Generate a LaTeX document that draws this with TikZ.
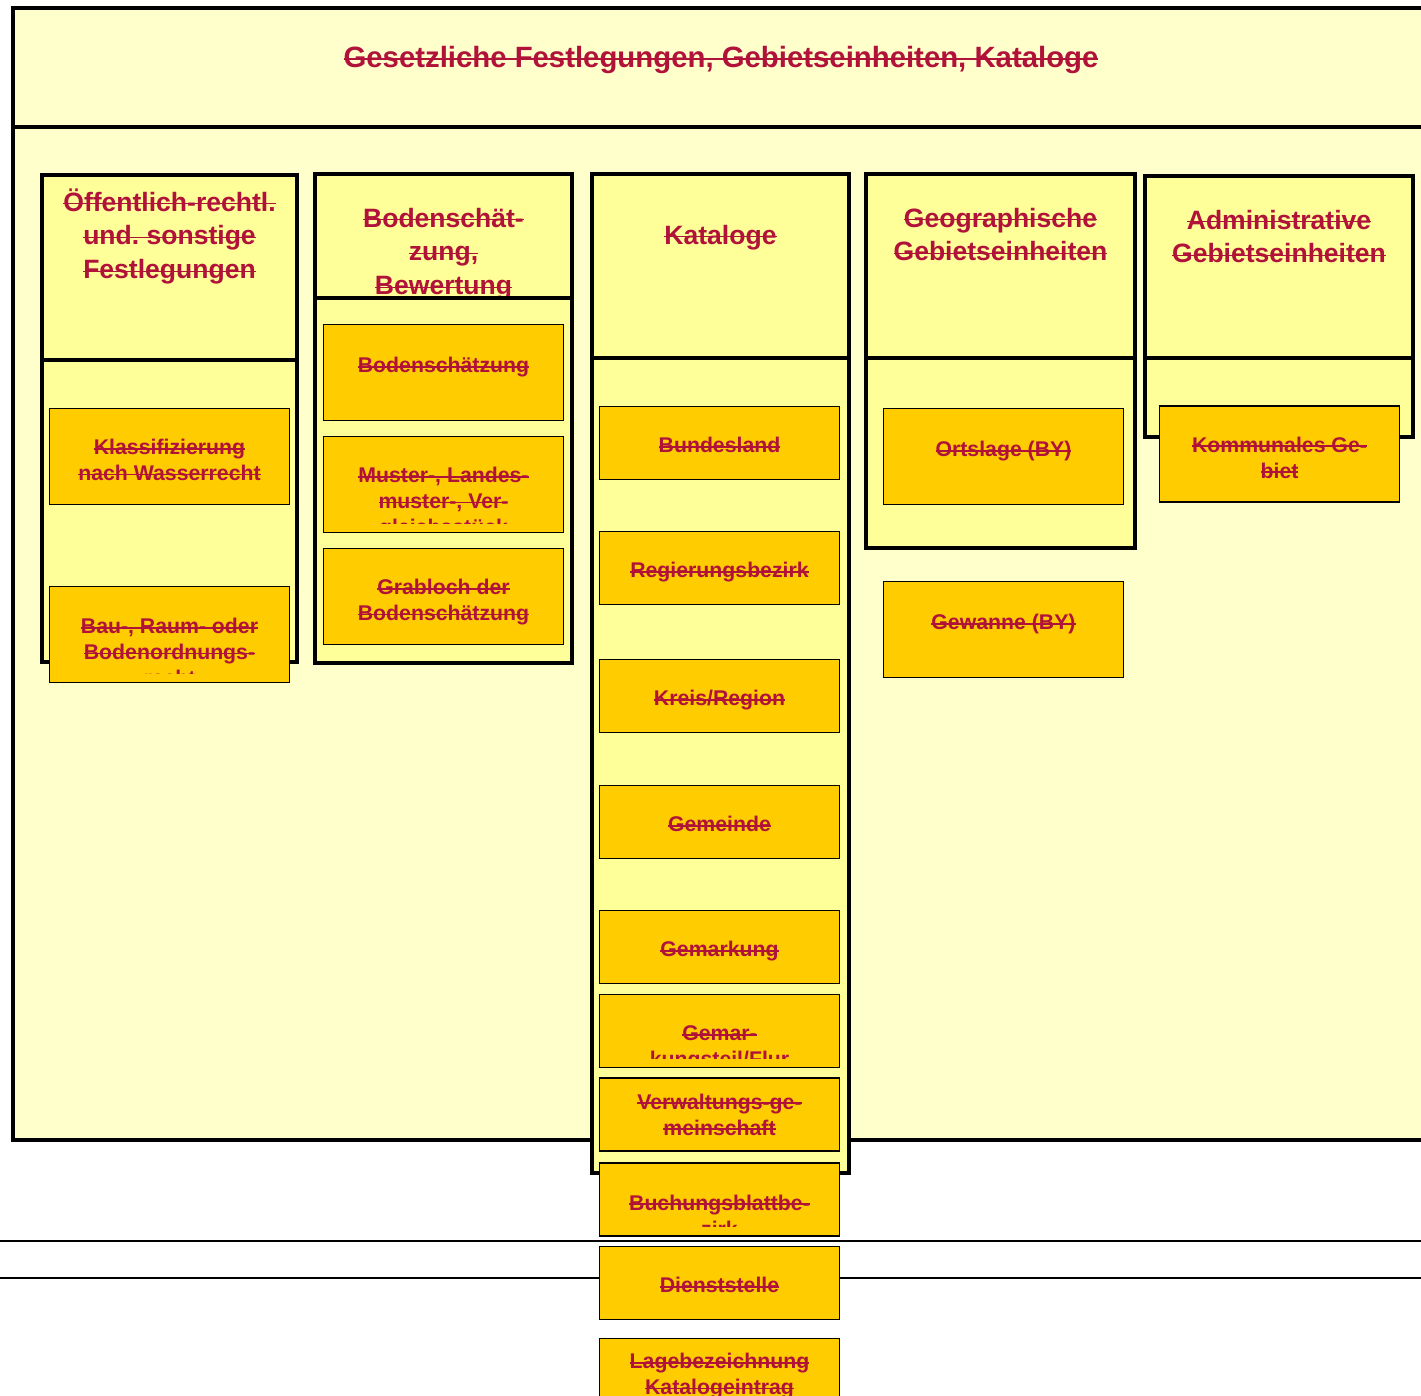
\documentclass[tikz,border=0pt]{standalone}
\usepackage{fontspec}
\setmainfont{Liberation Sans}
\usetikzlibrary{calc}
\definecolor{paleyellow}{HTML}{FFFFCC}
\definecolor{colyellow}{HTML}{FFFF99}
\definecolor{boxorange}{HTML}{FFCC00}
\definecolor{darkred}{RGB}{176,18,58}
\frenchspacing
\newsavebox{\strikebox}
\newcommand{\sline}[1]{\sbox{\strikebox}{#1}\strut\rlap{\rule[0.25em]{\wd\strikebox}{1pt}}\usebox{\strikebox}}

\begin{document}
\begin{tikzpicture}[x=0.02cm, y=-0.02cm,
    colframe/.style={draw=black, line width=2pt, fill=colyellow},
    colline/.style={draw=black, line width=1.8pt},
    entry/.style={draw=black, line width=1.1pt, fill=boxorange, inner sep=0pt,
                  minimum width=4.8cm, minimum height=1.92cm},
    shortentry/.style={entry, minimum height=1.46cm},
    titletext/.style={text=darkred, inner sep=0pt,
                      font=\fontsize{16.7}{20}\selectfont\bfseries},
    headtext/.style={text=darkred, align=center, inner sep=0pt, anchor=north,
                     font=\fontsize{15.1}{19.3}\selectfont\bfseries},
    boxtext/.style={text=darkred, align=center, inner sep=0pt, anchor=north,
                    font=\fontsize{12.1}{14.7}\selectfont\bfseries}]
            % page
            \useasboundingbox (0,0) rectangle (1421,1396);
            \clip (0,0) rectangle (1421,1396);
            \fill[white] (0,0) rectangle (1421,1396);

            % coordinates
            \coordinate (frame) at (13,8); % outer frame top-left
            \coordinate (colA) at (42,175); % column top-left corners
            \coordinate (colB) at (315,174);
            \coordinate (colC) at (592,174);
            \coordinate (colD) at (866,174);
            \coordinate (colE) at (1145,176);

            % thin lines below the frame
            \draw[line width=1pt] (0,1241) -- (1421,1241);
            \draw[line width=1pt] (0,1278) -- (1421,1278);

            % outer frame with title
            \draw[line width=2.8pt, fill=paleyellow] (frame) rectangle ++(1440,1132);
            \draw[line width=2.8pt] ($(frame) + (0,119)$) -- ++(1440,0);
            \node[titletext] (title) at (721,60) {\sline{Gesetzliche Festlegungen, Gebietseinheiten, Kataloge}};

            % columns
            \draw[colframe] (colA) rectangle ++(255,487);
            \draw[colline] ($(colA) + (0,185)$) -- ++(255,0);
            \node[headtext] (colA-t) at ($(colA) + (127.5,12)$)
                {\sline{Öffentlich-rechtl.}\\\sline{und. sonstige}\\\sline{Festlegungen}};

            \draw[colframe] (colB) rectangle ++(257,489);
            \node[headtext] (colB-t) at ($(colB) + (128.5,29)$)
                {\sline{Bodenschät-}\\\sline{zung,}\\\sline{Bewertung}};
            \draw[colline] ($(colB) + (0,124)$) -- ++(257,0);

            \draw[colframe] (colC) rectangle ++(257,999);
            \draw[colline] ($(colC) + (0,184)$) -- ++(257,0);
            \node[headtext] (colC-t) at ($(colC) + (128.5,46)$) {\sline{Kataloge}};

            \draw[colframe] (colD) rectangle ++(269,374);
            \draw[colline] ($(colD) + (0,184)$) -- ++(269,0);
            \node[headtext] (colD-t) at ($(colD) + (134.5,29)$)
                {\sline{Geographische}\\\sline{Gebietseinheiten}};

            \draw[colframe] (colE) rectangle ++(268,261);
            \draw[colline] ($(colE) + (0,182)$) -- ++(268,0);
            \node[headtext] (colE-t) at ($(colE) + (134,29)$)
                {\sline{Administrative}\\\sline{Gebietseinheiten}};

            % entries of the first column
            \node[entry] (klassifizierung) at (169.5,456.5) {};
            \node[boxtext] (klassifizierung-t) at ($(klassifizierung.north) + (0,29)$)
                {\sline{Klassifizierung}\\\sline{nach Wasserrecht}};
            \node[entry] (bauordnung) at (169.5,634.5) {};
            \begin{scope}
                \clip ($(bauordnung.north west) + (0,10)$) rectangle ($(bauordnung.south east) + (0,-10)$);
                \node[boxtext] (bauordnung-t) at ($(bauordnung.north) + (0,30)$)
                    {\sline{Bau-, Raum- oder}\\\sline{Bodenordnungs-}\\\sline{recht}};
            \end{scope}

            % entries of the second column
            \node[entry] (bodenschaetzung) at (443.5,372.5) {};
            \node[boxtext] (bodenschaetzung-t) at ($(bodenschaetzung.north) + (0,31)$)
                {\sline{Bodenschätzung}};
            \node[entry] (muster) at (443.5,484.5) {};
            \begin{scope}
                \clip ($(muster.north west) + (0,10)$) rectangle ($(muster.south east) + (0,-10)$);
                \node[boxtext] (muster-t) at ($(muster.north) + (0,29)$)
                    {\sline{Muster-, Landes-}\\\sline{muster-, Ver-}\\\sline{gleichsstück}};
            \end{scope}
            \node[entry] (grabloch) at (443.5,596.5) {};
            \node[boxtext] (grabloch-t) at ($(grabloch.north) + (0,29)$)
                {\sline{Grabloch der}\\\sline{Bodenschätzung}};

            % entries of the catalogue column
            \foreach \n/\y/\t in {bundesland/443/Bundesland, regbezirk/568/Regierungsbezirk,
                                  kreis/696/{Kreis/Region}, gemeinde/822/Gemeinde,
                                  gemarkung/947/Gemarkung, dienststelle/1283/Dienststelle} {
                \node[shortentry] (\n) at (719.5,\y) {};
                \node[boxtext] (\n-t) at ($(\n.north) + (0,29)$) {\sline{\t}};
            }
            \node[shortentry] (gemteil) at (719.5,1031) {};
            \begin{scope}
                \clip ($(gemteil.north west) + (0,10)$) rectangle ($(gemteil.south east) + (0,-10)$);
                \node[boxtext] (gemteil-t) at ($(gemteil.north) + (0,29)$)
                    {\sline{Gemar-}\\\sline{kungsteil/Flur}};
            \end{scope}
            \node[shortentry] (verwgem) at (719.5,1114.5) {};
            \node[boxtext] (verwgem-t) at ($(verwgem.north) + (0,14)$)
                {\sline{Verwaltungs-ge-}\\\sline{meinschaft}};
            \node[shortentry] (buchungsbezirk) at (719.5,1199.5) {};
            \begin{scope}
                \clip ($(buchungsbezirk.north west) + (0,10)$) rectangle ($(buchungsbezirk.south east) + (0,-10)$);
                \node[boxtext] (buchungsbezirk-t) at ($(buchungsbezirk.north) + (0,30)$)
                    {\sline{Buchungsblattbe-}\\\sline{zirk}};
            \end{scope}
            \node[shortentry] (lagebez) at (719.5,1375) {};
            \node[boxtext] (lagebez-t) at ($(lagebez.north) + (0,13)$)
                {\sline{Lagebezeichnung}\\\sline{Katalogeintrag}};

            % geographic and administrative entries
            \node[entry] (ortslage) at (1003.5,456.5) {};
            \node[boxtext] (ortslage-t) at ($(ortslage.north) + (0,31)$) {\sline{Ortslage (BY)}};
            \node[entry] (gewanne) at (1003.5,629.5) {};
            \node[boxtext] (gewanne-t) at ($(gewanne.north) + (0,31)$) {\sline{Gewanne (BY)}};
            \node[entry] (kommunal) at (1279.5,454) {};
            \node[boxtext] (kommunal-t) at ($(kommunal.north) + (0,29)$)
                {\sline{Kommunales Ge-}\\\sline{biet}};
        \end{tikzpicture}
\end{document}
